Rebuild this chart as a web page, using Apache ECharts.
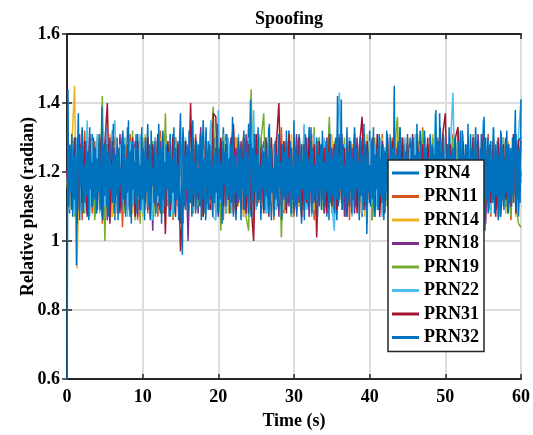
<!DOCTYPE html>
<html>
<head>
<meta charset="utf-8">
<script src="https://cdn.jsdelivr.net/npm/echarts@6/dist/echarts.min.js"></script>
<style>
html,body{margin:0;padding:0;background:#fff;}
#chart{width:533px;height:435px;}
</style>
</head>
<body>
<div id="chart"></div>
<script>
// Time span (s) and tick labels
const timeSpan = 60;
const xTicks = [0, 10, 20, 30, 40, 50, 60];
const yTicks = [0.6, 0.8, 1, 1.2, 1.4, 1.6];
const seriesNames = ['PRN4', 'PRN11', 'PRN14', 'PRN18', 'PRN19', 'PRN22', 'PRN31', 'PRN32'];
const seriesColors = ['#0072BD', '#D95319', '#EDB120', '#7E2F8E', '#77AC30', '#4DBEEE', '#A2142F', '#0072BD'];

const prn4 = [
1.20,1.08,1.30,1.10,1.28,1.06,1.33,1.11,1.27,1.09,
1.31,1.07,1.29,1.12,1.34,1.08,1.28,1.10,1.32,1.06,
1.27,1.11,1.30,1.09,1.33,1.07,1.28,1.12,1.31,1.08,
1.29,1.10,1.34,1.06,1.27,1.11,1.30,1.08,1.32,1.10,
1.28,1.07,1.31,1.12,1.29,1.05,1.33,1.09,1.27,1.11,
1.30,1.08,1.28,1.10,1.35,1.06,1.29,1.12,1.31,1.07,
1.27,1.11,1.33,1.08,1.29,1.10,1.32,1.06,1.28,1.12,
1.30,1.09,1.34,1.07,1.27,1.11,1.31,1.08,1.29,1.10,
1.33,1.06,1.28,1.12,1.30,1.08,1.27,1.10,1.32,1.07,
1.29,1.11,1.31,1.05,1.28,1.09,1.33,1.12,1.27,1.08,
1.30,1.10,1.29,1.07,1.34,1.11,1.28,1.06,1.31,1.09,
1.27,1.12,1.30,1.08,1.33,1.10,1.28,1.07,1.29,1.11,
1.32,1.06,1.28,1.10,1.30,1.08,1.27,1.12,1.31,1.09,
1.29,1.07,1.33,1.11,1.28,1.08,1.30,1.10,1.27,1.06,
1.32,1.12,1.29,1.09,1.31,1.07,1.28,1.11,1.33,1.08,
1.27,1.10,1.30,1.06,1.29,1.12,1.32,1.08,1.28,1.10,
1.31,1.07,1.33,1.11,1.27,1.09,1.30,1.08,1.29,1.12,
1.28,1.06,1.32,1.10,1.30,1.08,1.27,1.11,1.31,1.07,
1.29];

const prn11 = [
1.18,1.26,1.09,1.30,1.11,1.28,1.06,1.32,1.10,1.27,
1.08,1.29,1.12,1.31,1.05,1.28,1.10,1.26,1.07,1.30,
1.11,1.27,1.04,1.29,1.09,1.31,1.12,1.28,1.06,1.27,
1.10,1.30,1.08,1.26,1.11,1.29,1.07,1.32,1.09,1.28,
1.12,1.27,1.06,1.30,1.10,1.28,1.05,1.29,1.11,1.26,
1.08,1.31,1.12,1.27,1.07,1.30,1.10,1.28,1.09,1.26,
1.11,1.29,1.06,1.31,1.10,1.27,1.08,1.30,1.12,1.28,
1.07,1.26,1.10,1.29,1.05,1.31,1.11,1.27,1.09,1.30,
1.12,1.28,1.06,1.27,1.10,1.33,1.08,1.29,1.11,1.26,
1.07,1.30,1.10,1.28,1.09,1.27,1.12,1.31,1.06,1.29,
1.11,1.26,1.08,1.30,1.10,1.28,1.07,1.27,1.12,1.29,
1.09,1.31,1.06,1.28,1.11,1.26,1.08,1.30,1.10,1.27,
1.12,1.29,1.07,1.28,1.09,1.31,1.11,1.27,1.06,1.30,
1.10,1.28,1.08,1.26,1.12,1.30,1.07,1.29,1.11,1.27,
1.09,1.33,1.06,1.28,1.10,1.27,1.12,1.30,1.08,1.29,
1.11,1.26,1.07,1.31,1.10,1.28,1.09,1.27,1.12,1.29,
1.06,1.30,1.11,1.28,1.08,1.27,1.10,1.31,1.07,1.29,
1.12,1.26,1.09,1.30,1.11,1.28,1.06,1.27,1.10,1.29,
1.17];

const prn14 = [
1.17,1.10,1.29,1.45,0.92,1.27,1.12,1.28,1.09,1.30,
1.11,1.27,1.08,1.29,1.12,1.26,1.10,1.31,1.07,1.28,
1.11,1.27,1.09,1.30,1.12,1.28,1.08,1.26,1.10,1.29,
1.07,1.31,1.11,1.27,1.09,1.28,1.12,1.30,1.08,1.26,
1.10,1.29,1.07,1.27,1.11,1.30,1.09,1.28,1.12,1.26,
1.08,1.29,1.11,1.31,1.07,1.27,1.10,1.28,1.12,1.30,
1.09,1.26,1.11,1.29,1.08,1.27,1.12,1.30,1.10,1.28,
1.07,1.29,1.11,1.27,1.09,1.31,1.12,1.28,1.08,1.26,
1.10,1.30,1.07,1.28,1.11,1.27,1.09,1.29,1.12,1.31,
1.08,1.27,1.10,1.28,1.07,1.30,1.11,1.26,1.09,1.29,
1.12,1.28,1.08,1.27,1.10,1.31,1.07,1.29,1.11,1.26,
1.09,1.30,1.12,1.28,1.08,1.27,1.10,1.29,1.07,1.31,
1.11,1.28,1.09,1.26,1.12,1.30,1.08,1.27,1.10,1.29,
1.07,1.32,1.11,1.28,1.09,1.27,1.12,1.30,1.08,1.26,
1.10,1.29,1.07,1.28,1.11,1.31,1.09,1.27,1.12,1.30,
1.08,1.28,1.10,1.26,1.07,1.29,1.11,1.30,1.09,1.27,
1.12,1.28,1.08,1.31,1.10,1.26,1.07,1.29,1.11,1.28,
1.09,1.30,1.12,1.27,1.08,1.29,1.10,1.28,1.07,1.26,
1.18];

const prn18 = [
1.19,1.27,1.10,1.29,1.08,1.31,1.11,1.28,1.07,1.30,
1.12,1.27,1.09,1.29,1.10,1.28,1.06,1.30,1.11,1.27,
1.08,1.31,1.12,1.28,1.09,1.26,1.10,1.29,1.07,1.30,
1.11,1.28,1.09,1.27,1.03,1.30,1.10,1.29,1.08,1.31,
1.12,1.27,1.09,1.30,1.11,1.28,1.07,1.29,1.00,1.27,
1.10,1.30,1.08,1.33,1.12,1.28,1.09,1.34,1.11,1.27,
1.07,1.29,1.10,1.28,1.12,1.30,1.08,1.27,1.11,1.29,
1.09,1.31,1.07,1.28,1.10,1.27,1.12,1.30,1.08,1.29,
1.11,1.26,1.09,1.30,1.07,1.28,1.12,1.29,1.10,1.27,
1.08,1.31,1.11,1.28,1.09,1.30,1.07,1.27,1.12,1.29,
1.10,1.28,1.08,1.30,1.11,1.27,1.09,1.29,1.12,1.31,
1.07,1.28,1.10,1.27,1.08,1.30,1.11,1.29,1.09,1.28,
1.12,1.30,1.07,1.27,1.10,1.29,1.08,1.31,1.11,1.28,
1.09,1.27,1.12,1.30,1.07,1.28,1.10,1.29,1.08,1.27,
1.11,1.30,1.09,1.28,1.12,1.27,1.07,1.29,1.10,1.31,
1.08,1.28,1.11,1.27,1.09,1.30,1.12,1.29,1.07,1.28,
1.10,1.27,1.08,1.31,1.11,1.29,1.05,1.28,1.12,1.30,
1.09,1.27,1.07,1.29,1.10,1.28,1.08,1.30,1.11,1.27,
1.19];

const prn19 = [
1.18,1.09,1.30,1.07,1.28,1.11,1.31,1.08,1.27,1.10,
1.29,1.06,1.30,1.12,1.42,1.00,1.28,1.09,1.31,1.07,
1.27,1.11,1.30,1.08,1.29,1.10,1.32,1.06,1.28,1.05,
1.30,1.09,1.27,1.11,1.29,1.07,1.31,1.10,1.08,1.37,
1.10,1.28,1.07,1.30,1.11,1.27,1.09,1.29,1.12,1.31,
1.08,1.28,1.10,1.30,1.07,1.29,1.11,1.27,1.39,1.09,
1.29,1.03,1.31,1.10,1.28,1.08,1.30,1.11,1.27,1.09,
1.31,1.07,1.03,1.44,1.10,1.28,1.12,1.30,1.37,1.08,
1.29,1.11,1.27,1.09,1.30,1.01,1.28,1.10,1.31,1.07,
1.29,1.11,1.27,1.08,1.33,1.10,1.28,1.12,1.33,1.07,
1.30,1.09,1.28,1.11,1.36,1.08,1.29,1.10,1.27,1.12,
1.30,1.07,1.28,1.09,1.31,1.11,1.27,1.08,1.29,1.10,
1.28,1.06,1.30,1.11,1.29,1.08,1.27,1.10,1.31,1.12,
1.28,1.36,1.09,1.30,1.11,1.27,1.08,1.29,1.10,1.31,
1.07,1.32,1.11,1.28,1.09,1.30,1.12,1.27,1.08,1.29,
1.10,1.28,1.07,1.30,1.11,1.33,1.09,1.27,1.12,1.29,
1.08,1.31,1.10,1.28,1.07,1.30,1.11,1.27,1.09,1.29,
1.12,1.28,1.08,1.30,1.10,1.27,1.07,1.29,1.11,1.05,
1.04];

const prn22 = [
1.19,1.10,1.28,1.08,1.30,1.11,1.27,1.09,1.35,1.07,
1.29,1.12,1.31,1.08,1.28,1.10,1.27,1.06,1.30,1.35,
1.09,1.28,1.11,1.30,1.07,1.29,1.10,1.27,1.12,1.31,
1.08,1.29,1.10,1.28,1.06,1.30,1.11,1.27,1.09,1.29,
1.12,1.31,1.08,1.28,1.10,1.27,1.07,1.30,1.11,1.29,
1.09,1.28,1.12,1.30,1.08,1.32,1.10,1.35,1.07,1.06,
1.38,1.11,1.29,1.08,1.30,1.10,1.27,1.12,1.31,1.09,
1.28,1.07,1.30,1.11,1.38,1.09,1.29,1.10,1.27,1.08,
1.30,1.12,1.28,1.09,1.31,1.07,1.29,1.11,1.27,1.10,
1.30,1.08,1.28,1.12,1.34,1.09,1.29,1.07,1.31,1.10,
1.28,1.11,1.30,1.08,1.27,1.10,1.03,1.29,1.43,1.09,
1.28,1.12,1.30,1.07,1.29,1.10,1.27,1.08,1.31,1.05,
1.29,1.11,1.28,1.09,1.30,1.07,1.27,1.12,1.31,1.08,
1.29,1.10,1.28,1.11,1.30,1.09,1.27,1.08,1.31,1.12,
1.28,1.10,1.30,1.07,1.29,1.11,1.37,1.09,1.28,1.08,
1.30,1.12,1.27,1.43,1.10,1.29,1.08,1.31,1.11,1.28,
1.09,1.30,1.07,1.28,1.12,1.35,1.10,1.29,1.08,1.33,
1.11,1.28,1.12,1.30,1.13,1.27,1.10,1.29,1.08,1.31,
1.41];

const prn31 = [
1.18,1.27,1.09,1.30,1.05,1.28,1.11,1.29,1.08,1.31,
1.10,1.27,1.12,1.30,1.07,1.28,1.40,1.05,1.29,1.11,
1.27,1.08,1.31,1.10,1.28,1.12,1.30,1.07,1.29,1.09,
1.27,1.11,1.30,1.08,1.28,1.10,1.31,1.12,1.27,1.02,
1.29,1.09,1.30,1.07,1.28,0.97,1.11,1.29,1.08,1.40,
1.10,1.28,1.12,1.30,1.07,1.29,1.11,1.09,1.37,1.36,
1.08,1.30,1.10,1.28,1.12,1.27,1.34,1.09,1.29,1.11,
1.30,1.08,1.28,1.10,1.00,1.31,1.12,1.27,1.09,1.29,
1.07,1.30,1.11,1.28,1.40,1.10,1.29,1.08,1.31,1.12,
1.27,1.09,1.30,1.07,1.28,1.11,1.30,1.10,1.28,1.01,
1.29,1.12,1.27,1.08,1.31,1.10,1.28,1.09,1.30,1.11,
1.27,1.07,1.29,1.12,1.30,1.08,1.28,1.36,1.10,1.29,
1.11,1.27,1.09,1.31,1.07,1.28,1.12,1.30,1.10,1.29,
1.08,1.27,1.11,1.30,1.09,1.28,1.12,1.31,1.07,1.29,
1.10,1.28,1.08,1.30,1.11,1.27,1.09,1.29,1.12,1.31,
1.37,1.08,1.28,1.10,1.30,1.33,1.07,1.29,1.11,1.27,
1.09,1.30,1.12,1.28,1.08,1.31,1.10,1.27,1.11,1.29,
1.07,1.30,1.09,1.28,1.12,1.27,1.10,1.31,1.08,1.29,
1.30];

const prn32 = [
0.50,1.44,1.10,1.28,1.14,1.31,1.07,1.25,1.12,1.30,
0.93,1.24,1.37,1.09,1.27,1.16,1.32,1.08,1.22,1.11,
1.29,1.13,1.26,1.06,1.33,1.15,1.23,1.10,1.30,1.12,
1.27,1.08,1.24,1.14,1.31,1.09,1.20,1.39,1.06,1.28,
1.13,1.33,1.10,1.26,1.07,1.29,1.15,1.22,1.11,1.34,
1.08,1.25,1.13,1.30,1.06,1.27,1.16,1.21,1.09,1.32,
1.12,1.28,1.07,1.24,1.14,1.35,1.10,1.26,1.05,1.29,
1.15,1.23,1.11,1.31,1.08,1.27,1.13,1.22,1.09,1.33,
1.12,1.26,1.06,1.30,1.14,1.24,1.10,1.28,1.07,1.32,
1.16,1.21,1.11,1.29,1.08,1.25,1.13,1.34,1.09,1.27,
1.05,1.30,1.12,1.23,1.10,1.28,1.15,1.26,1.07,1.31,
1.11,1.24,1.14,1.33,1.08,1.27,1.12,1.22,1.06,1.29,
1.37,1.13,0.96,1.30,1.10,1.25,1.15,1.28,1.08,1.32,
1.11,1.26,1.07,1.35,1.13,1.23,1.09,1.29,1.14,1.21,
1.10,1.31,1.06,1.27,1.12,1.24,1.08,1.33,1.15,1.26,
1.09,1.28,1.13,1.22,1.07,1.30,1.11,1.25,1.14,1.34,
1.08,1.27,1.12,1.23,1.05,1.29,1.16,1.26,1.10,1.31,
1.13,1.24,1.08,1.28,1.11,1.36,1.07,1.25,1.14,1.22,
1.10,1.30,1.12,1.27,1.06,1.24,1.15,1.32,1.09,1.26,
1.13,1.29,1.08,1.23,1.41,1.11,1.27,1.07,1.31,1.14,
1.25,1.10,1.33,1.12,1.22,1.06,1.28,1.15,1.26,1.09,
1.30,1.13,1.24,1.08,1.34,1.11,1.27,1.14,1.21,1.07,
1.29,1.12,1.25,1.10,1.31,1.15,1.23,1.06,1.28,1.13,
1.26,1.09,1.32,1.11,1.24,1.14,1.29,1.08,1.22,1.12,
1.35,1.10,1.27,1.07,1.25,1.13,1.30,1.09,1.23,1.15,
1.28,1.06,1.31,1.12,1.26,1.10,1.24,1.14,1.33,1.08,
1.27,1.11,1.22,1.13,1.30,1.07,1.25,1.15,1.28,1.09,
1.32,1.12,1.23,1.10,1.29,1.14,1.26,1.06,1.31,1.11,
1.24,1.13,1.27,1.08,1.30,1.12,1.42,1.10,1.25,1.15,
1.41,1.09,1.28,1.13,1.22,1.07,1.33,1.11,1.26,1.14,
1.29,1.08,1.24,1.12,1.31,1.10,1.27,1.15,1.23,1.06,
1.30,1.13,1.25,1.09,1.34,1.11,1.28,1.02,1.26,1.14,
1.22,1.10,1.29,1.12,1.33,1.07,1.25,1.15,1.27,1.09,
1.31,1.13,1.24,1.11,1.28,1.06,1.26,1.14,1.32,1.10,
1.23,1.12,1.30,1.08,1.27,1.15,1.45,1.09,1.25,1.13,
1.29,1.11,1.33,1.07,1.24,1.14,1.28,1.10,1.26,1.12,
1.31,1.09,1.22,1.15,1.27,1.06,1.30,1.13,1.25,1.11,
1.34,1.08,1.26,1.12,1.29,1.10,1.23,1.14,1.32,1.07,
1.27,1.13,1.24,1.09,1.30,1.11,1.28,1.15,1.25,1.10,
1.38,1.12,1.29,1.08,1.37,1.14,1.26,1.07,1.31,1.11,
1.24,1.13,1.28,1.09,1.33,1.12,1.25,1.15,1.27,1.06,
1.30,1.10,1.23,1.14,1.29,1.11,1.26,1.08,1.32,1.13,
1.25,1.09,1.28,1.12,1.34,1.10,1.24,1.15,1.27,1.07,
1.30,1.13,1.26,1.11,1.29,1.08,1.23,1.14,1.31,1.10,
1.27,1.36,1.03,1.25,1.12,1.30,1.09,1.28,1.14,1.24,
1.11,1.33,1.08,1.26,1.13,1.29,1.10,1.25,1.07,1.31,
1.12,1.27,1.09,1.24,1.14,1.32,1.08,1.28,1.11,1.26,
1.10,1.30,1.13,1.25,1.38,1.09,1.28,1.12,1.27,1.11,
1.41];

const seriesValues = [prn4, prn11, prn14, prn18, prn19, prn22, prn31, prn32];

const FONT = '"Liberation Serif", "Times New Roman", serif';
const axisColor = '#262626';

function pairs(vals) {
  const step = timeSpan / (vals.length - 1);
  return vals.map((v, i) => [i * step, v]);
}
function fmtY(v) { return String(+v.toFixed(1)); }

const chart = echarts.init(document.getElementById('chart'), null, {renderer: 'canvas'});

const frameAxisCommon = {
  axisLine: {show: true, lineStyle: {color: axisColor, width: 2}},
  axisTick: {show: true, inside: true, length: 5, lineStyle: {color: axisColor, width: 1.5}},
};

chart.setOption({
  animation: false,
  backgroundColor: '#ffffff',
  title: {
    text: 'Spoofing',
    left: 255,
    top: 10,
    padding: 0,
    textStyle: {fontFamily: FONT, fontWeight: 'bold', fontSize: 18, color: '#000'}
  },
  grid: {left: 67, right: 10, top: 34, bottom: 51, containLabel: false},
  legend: {
    orient: 'vertical',
    left: 388,
    top: 160,
    data: seriesNames,
    backgroundColor: '#ffffff',
    borderColor: '#262626',
    borderWidth: 1.5,
    borderRadius: 0,
    padding: [4, 5, 5, 4],
    itemGap: 5.5,
    itemWidth: 27,
    itemHeight: 3,
    icon: 'rect',
    z: 10,
    textStyle: {fontFamily: FONT, fontWeight: 'bold', fontSize: 18, color: '#000'}
  },
  xAxis: [
    Object.assign({
      type: 'value', position: 'bottom', min: xTicks[0], max: xTicks[xTicks.length - 1], interval: 10,
      name: 'Time (s)', nameLocation: 'middle', nameGap: 33, nameMoveOverlap: false,
      nameTextStyle: {fontFamily: FONT, fontWeight: 'bold', fontSize: 18, color: '#000'},
      axisLabel: {fontFamily: FONT, fontWeight: 'bold', fontSize: 18, color: '#000', margin: 9},
      splitLine: {show: true, lineStyle: {color: '#dcdcdc', width: 2}}
    }, frameAxisCommon),
    Object.assign({
      type: 'value', position: 'top', min: xTicks[0], max: xTicks[xTicks.length - 1], interval: 10,
      axisLabel: {show: false}, splitLine: {show: false}
    }, frameAxisCommon)
  ],
  yAxis: [
    Object.assign({
      type: 'value', position: 'left', min: yTicks[0], max: yTicks[yTicks.length - 1], interval: 0.2,
      name: 'Relative phase (radian)', nameLocation: 'middle', nameGap: 30, nameRotate: 90, nameMoveOverlap: false,
      nameTextStyle: {fontFamily: FONT, fontWeight: 'bold', fontSize: 18, color: '#000'},
      axisLabel: {fontFamily: FONT, fontWeight: 'bold', fontSize: 18, color: '#000', margin: 7, formatter: fmtY},
      splitLine: {show: true, lineStyle: {color: '#dcdcdc', width: 2}}
    }, frameAxisCommon),
    Object.assign({
      type: 'value', position: 'right', min: yTicks[0], max: yTicks[yTicks.length - 1], interval: 0.2,
      axisLabel: {show: false}, splitLine: {show: false}
    }, frameAxisCommon)
  ],
  series: seriesNames.map((name, k) => ({
    name: name,
    type: 'line',
    xAxisIndex: 0,
    yAxisIndex: 0,
    data: pairs(seriesValues[k]),
    showSymbol: false,
    symbol: 'none',
    clip: true,
    color: seriesColors[k],
    lineStyle: {color: seriesColors[k], width: 1.5},
    emphasis: {disabled: true},
    z: 2 + k * 0.01
  }))
});
</script>
</body>
</html>
